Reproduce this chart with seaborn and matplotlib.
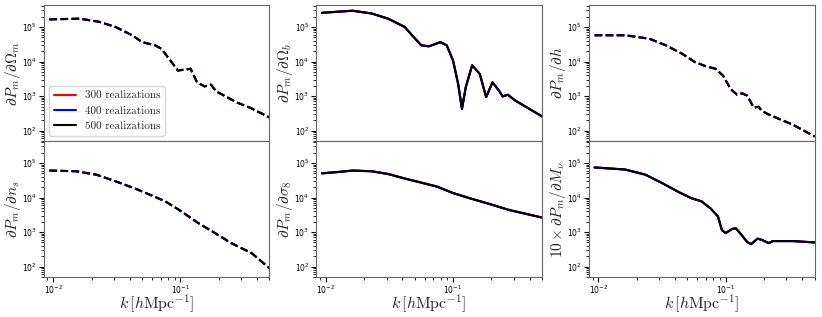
import numpy as np
import matplotlib
matplotlib.use("Agg")
import matplotlib.pyplot as plt
import seaborn as sns

sns.set_style("ticks")
plt.rcParams["mathtext.fontset"] = "cm"
plt.rcParams["font.family"] = ["DejaVu Sans"]

# log10(k) and log10(derivative), one pair per panel
logk_om = [-2.03, -1.79, -1.64, -1.51, -1.38, -1.30, -1.20, -1.15, -1.10, -1.02, -0.98,
           -0.92, -0.87, -0.81, -0.76, -0.72, -0.66, -0.56, -0.45, -0.30]
logp_om = [5.22, 5.24, 5.15, 5.00, 4.76, 4.56, 4.47, 4.37, 4.13, 3.74, 3.76,
           3.79, 3.40, 3.28, 3.33, 3.14, 3.02, 2.82, 2.66, 2.38]

logk_ob = [-2.03, -1.79, -1.64, -1.51, -1.38, -1.31, -1.25, -1.19, -1.10, -1.05, -1.00,
           -0.96, -0.93, -0.90, -0.85, -0.79, -0.74, -0.69, -0.64, -0.61, -0.57, -0.51, -0.30]
logp_ob = [5.41, 5.47, 5.39, 5.24, 5.00, 4.71, 4.47, 4.44, 4.56, 4.47, 4.03,
           3.35, 2.63, 3.26, 3.89, 3.64, 2.97, 3.40, 3.16, 2.99, 3.04, 2.87, 2.41]

logk_h = [-2.03, -1.79, -1.60, -1.47, -1.34, -1.24, -1.16, -1.08, -1.02, -0.96, -0.91,
          -0.87, -0.83, -0.78, -0.74, -0.72, -0.67, -0.58, -0.47, -0.30]
logp_h = [4.76, 4.76, 4.66, 4.47, 4.22, 3.98, 3.87, 3.79, 3.59, 3.20, 3.04,
          3.08, 3.01, 2.67, 2.69, 2.59, 2.48, 2.34, 2.17, 1.83]

logk_ns = [-2.03, -1.82, -1.66, -1.51, -1.35, -1.22, -1.12, -1.01, -0.86, -0.75, -0.60, -0.44, -0.30]
logp_ns = [4.78, 4.76, 4.66, 4.47, 4.25, 4.05, 3.89, 3.64, 3.26, 3.02, 2.68, 2.39, 1.95]

logk_s8 = [-2.03, -1.90, -1.79, -1.64, -1.51, -1.38, -1.26, -1.13, -1.00, -0.87, -0.72, -0.56, -0.30]
logp_s8 = [4.70, 4.74, 4.78, 4.76, 4.68, 4.55, 4.44, 4.32, 4.13, 3.98, 3.82, 3.64, 3.42]

logk_mnu = [-2.03, -1.79, -1.63, -1.50, -1.37, -1.27, -1.19, -1.12, -1.06, -1.03, -1.00,
            -0.95, -0.92, -0.88, -0.83, -0.80, -0.75, -0.72, -0.66, -0.63, -0.47, -0.30]
logp_mnu = [4.87, 4.81, 4.66, 4.42, 4.16, 3.98, 3.89, 3.69, 3.45, 3.06, 2.97,
            3.09, 3.11, 2.94, 2.71, 2.65, 2.81, 2.78, 2.68, 2.74, 2.74, 2.70]

realizations = ["300 realizations", "400 realizations", "500 realizations"]
colors = ["red", "blue", "black"]

panels = [
    (logk_om, logp_om, r"$\partial P_m/\partial \Omega_m$", "--"),
    (logk_ob, logp_ob, r"$\partial P_m/\partial \Omega_b$", "-"),
    (logk_h, logp_h, r"$\partial P_m/\partial h$", "--"),
    (logk_ns, logp_ns, r"$\partial P_m/\partial n_s$", "--"),
    (logk_s8, logp_s8, r"$\partial P_m/\partial \sigma_8$", "-"),
    (logk_mnu, logp_mnu, r"$10\times\partial P_m/\partial M_\nu$", "-"),
]

fig, axes = plt.subplots(2, 3, figsize=(8.22, 3.17), dpi=100, sharex=True)
fig.subplots_adjust(left=0.053, right=0.991, top=0.984, bottom=0.126, wspace=0.207, hspace=0)

for ax, (lk, lp, label, ls) in zip(axes.flat, panels):
    k = 10 ** np.array(lk)
    p = 10 ** np.array(lp)
    for name, c in zip(realizations, colors):
        sns.lineplot(x=k, y=p, ax=ax, color=c, linestyle=ls, lw=1.5, label=name, legend=False)
    ax.set_xscale("log")
    ax.set_yscale("log")
    ax.set_ylim(50, 4.3e5)
    ax.set_ylabel(label, fontsize=11)
    ax.yaxis.set_label_coords(-0.092, 0.5)
    ax.tick_params(which="both", labelsize=5.5, direction="out", colors="black", pad=1.5)
    ax.tick_params(which="major", length=3.5, width=0.8)
    ax.tick_params(which="minor", length=2, width=0.6)
    for s in ax.spines.values():
        s.set_color("#666666")

for ax in axes[1]:
    ax.set_xlabel(r"$k\,[h{\rm Mpc}^{-1}]$", fontsize=11.5)
    ax.xaxis.set_label_coords(0.5, -0.115)

axes[0, 0].set_xlim(0.0084, 0.5)

handles = [plt.Line2D([], [], color=c, lw=1.5) for c in colors]
axes[0, 0].legend(handles, realizations, loc="lower left", prop={"family": "cmr10", "size": 8})

plt.savefig("out.png", dpi=100)
